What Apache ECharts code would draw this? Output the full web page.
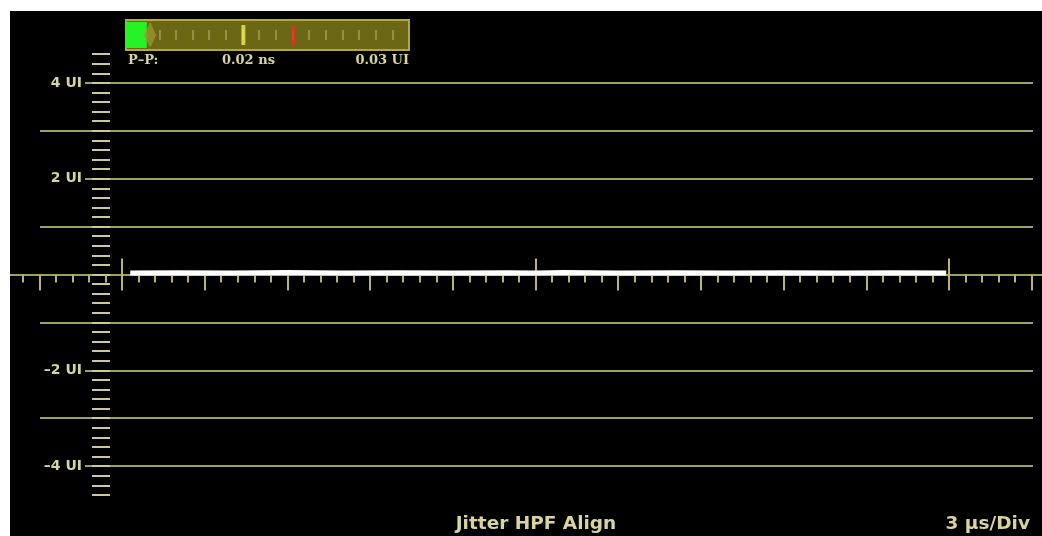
<!DOCTYPE html>
<html><head><meta charset="utf-8">
<script src="https://cdn.jsdelivr.net/npm/echarts@6/dist/echarts.min.js"></script>
<style>
html,body{margin:0;padding:0;background:#fff;width:1042px;height:536px;overflow:hidden}
#c{position:absolute;left:10px;top:11px;width:1032px;height:525px}
</style></head><body><div id="c"></div>
<script>
// ---- data ----
const timeUs   = [0.3, 2.0, 4.0, 6.0, 8.0, 10.0, 12.0, 14.0, 15.0, 16.0, 18.0, 20.0, 22.0, 24.0, 26.0, 28.0, 29.9];
const jitterUI = [0.03, 0.035, 0.03, 0.04, 0.03, 0.035, 0.03, 0.035, 0.03, 0.04, 0.03, 0.035, 0.03, 0.035, 0.03, 0.035, 0.03];
const xRangeUs = [0, 30];          // 10 div x 3 us
const yRangeUI = [-5, 5];
const meterLevel  = [1.25];
const meterCursor = [1.45];
const meterYellow = [7.05];
const meterRed    = [10.05];
const readoutLabels = ['P\u2013P:', '0.02 ns', '0.03 UI'];
const footerLabels  = ['Jitter HPF Align', '3 \u00b5s/Div'];

// ---- layout ----
const W = 1032, H = 525;
const Z0 = 263.5, PXUI = 47.9;          // zero line and px per UI
const X0 = 112, X30 = 939;              // 0 us and 30 us
const PXUS = (X30 - X0) / 30;
const yTop = v => Z0 - v * PXUI;
const yBot = v => H - (Z0 + v * PXUI);
const xL = v => X0 + v * PXUS;

const GRID = '#9ea25e', TEXT = '#d8d49c', TICK = '#b9b56a', DASH = '#cdc993';
const base = { outerBoundsMode: 'none', containLabel: false };

const grids = [
  Object.assign({ left: X0, right: W - X30, top: yTop(5), bottom: yBot(5) }, base),           // 0 data
  Object.assign({ left: 30, right: 9, top: yTop(3), bottom: yBot(3) }, base),                 // 1 odd lines
  Object.assign({ left: 75, right: 9, top: yTop(4), bottom: yBot(4) }, base),                 // 2 even lines + labels
  Object.assign({ left: 100, right: 900, top: yTop(4.6), bottom: yBot(4.6) }, base),          // 3 y dashes
  Object.assign({ left: 0, right: 0, top: 0, bottom: H - Z0 }, base),                         // 4 x axis line
  Object.assign({ left: xL(-3.6), right: W - xL(33), top: 0, bottom: H - Z0 }, base),         // 5 minor ticks
  Object.assign({ left: xL(-3), right: W - xL(33), top: 0, bottom: H - Z0 }, base),           // 6 div ticks
  Object.assign({ left: X0, right: W - X30, top: 0, bottom: H - Z0 }, base),                  // 7 tall up ticks
  Object.assign({ left: 116, width: 283, top: 9, height: 30, show: true,
    backgroundColor: '#6c6714', borderColor: '#b3a93c', borderWidth: 2 }, base),              // 8 meter
  Object.assign({ left: 116 + 283 / 17, width: 283 * 15 / 17, top: 9, height: 10 }, base)     // 9 meter ticks
];

const hid = i => ({ gridIndex: i, type: 'value', show: false });
const tickAxis = (i, min, max, interval, len, extra) => Object.assign({
  gridIndex: i, type: 'value', min, max, interval,
  axisLine: { show: false }, axisLabel: { show: false }, splitLine: { show: false },
  axisTick: { show: true, length: len, lineStyle: { color: TICK, width: 2 } }
}, extra || {});

const xAxis = [
  { gridIndex: 0, type: 'value', min: xRangeUs[0], max: xRangeUs[1], show: false },
  hid(1), hid(2), hid(3),
  { gridIndex: 4, type: 'value', min: 0, max: 1, position: 'bottom',
    axisLine: { show: true, lineStyle: { color: GRID, width: 2 } },
    axisTick: { show: false }, axisLabel: { show: false }, splitLine: { show: false } },
  tickAxis(5, -3.6, 33, 0.6, 8),
  tickAxis(6, -3, 33, 3, 16),
  tickAxis(7, 0, 30, 15, 16, { axisTick: { show: true, inside: true, length: 16, lineStyle: { color: TICK, width: 2 } } }),
  { gridIndex: 8, type: 'value', min: 0, max: 17, show: false },
  tickAxis(9, 1, 16, 1, 10, { z: 1, axisTick: { show: true, length: 10, lineStyle: { color: '#a39d5c', width: 1.5 } } })
];

const yAxis = [
  { gridIndex: 0, type: 'value', min: yRangeUI[0], max: yRangeUI[1], show: false },
  { gridIndex: 1, type: 'value', min: -3, max: 3, interval: 2,
    axisLine: { show: false }, axisTick: { show: false }, axisLabel: { show: false },
    splitLine: { show: true, lineStyle: { color: GRID, width: 2 } } },
  { gridIndex: 2, type: 'value', min: -4, max: 4, interval: 2,
    axisLine: { show: false }, axisTick: { show: false },
    axisLabel: { show: true, margin: 3, showMinLabel: true, showMaxLabel: true, color: TEXT,
      fontFamily: 'DejaVu Sans', fontWeight: 'bold', fontSize: 14,
      formatter: v => v === 0 ? '' : (v < 0 ? '\u2013' + (-v) : v) + ' UI' },
    splitLine: { show: true, lineStyle: { color: GRID, width: 2 } } },
  { gridIndex: 3, type: 'value', min: -4.6, max: 4.6, interval: 0.2, position: 'left',
    axisLine: { show: false }, axisLabel: { show: false }, splitLine: { show: false },
    axisTick: { show: true, length: 18, lineStyle: { color: DASH, width: 2 } } },
  hid(4), hid(5), hid(6), hid(7),
  { gridIndex: 8, type: 'category', data: ['PP'], show: false },
  hid(9)
];

const roText = { color: TEXT, fontFamily: 'DejaVu Serif', fontWeight: 'bold', fontSize: 13, lineHeight: 15 };
const ftText = { color: TEXT, fontFamily: 'DejaVu Sans', fontWeight: 'bold', fontSize: 18.5, lineHeight: 22 };

const option = {
  animation: false,
  backgroundColor: '#000',
  grid: grids,
  xAxis, yAxis,
  title: [
    { text: readoutLabels[0], left: 118, top: 42, padding: 0, textStyle: roText },
    { text: readoutLabels[1], left: 212, top: 42, padding: 0, textStyle: roText },
    { text: readoutLabels[2], right: W - 399, top: 42, padding: 0, textStyle: roText },
    { text: footerLabels[0], left: 526, textAlign: 'center', top: 502, padding: 0, textStyle: ftText },
    { text: footerLabels[1], right: 12, top: 502, padding: 0, textStyle: ftText }
  ],
  series: [
    { type: 'line', xAxisIndex: 0, yAxisIndex: 0, z: 5, silent: true,
      symbol: 'none', data: timeUs.map((t, i) => [t, jitterUI[i]]),
      lineStyle: { color: '#ffffff', width: 5 } },
    { type: 'bar', xAxisIndex: 8, yAxisIndex: 8, barWidth: 26, silent: true,
      data: meterLevel, itemStyle: { color: '#26f226' } },
    { type: 'scatter', xAxisIndex: 8, yAxisIndex: 8, symbol: 'diamond', symbolSize: [12, 26], silent: true, z: 3,
      data: meterCursor.map(v => [v, 0]), itemStyle: { color: '#a09430' } },
    { type: 'scatter', xAxisIndex: 8, yAxisIndex: 8, symbol: 'rect', symbolSize: [4, 20], silent: true, z: 3,
      data: meterYellow.map(v => [v, 0]), itemStyle: { color: '#f2ee5a' } },
    { type: 'scatter', xAxisIndex: 8, yAxisIndex: 8, symbol: 'rect', symbolSize: [4, 20], silent: true, z: 3,
      data: meterRed.map(v => [v, 0]), itemStyle: { color: '#e2311d' } }
  ]
};
echarts.init(document.getElementById('c')).setOption(option);
</script></body></html>
